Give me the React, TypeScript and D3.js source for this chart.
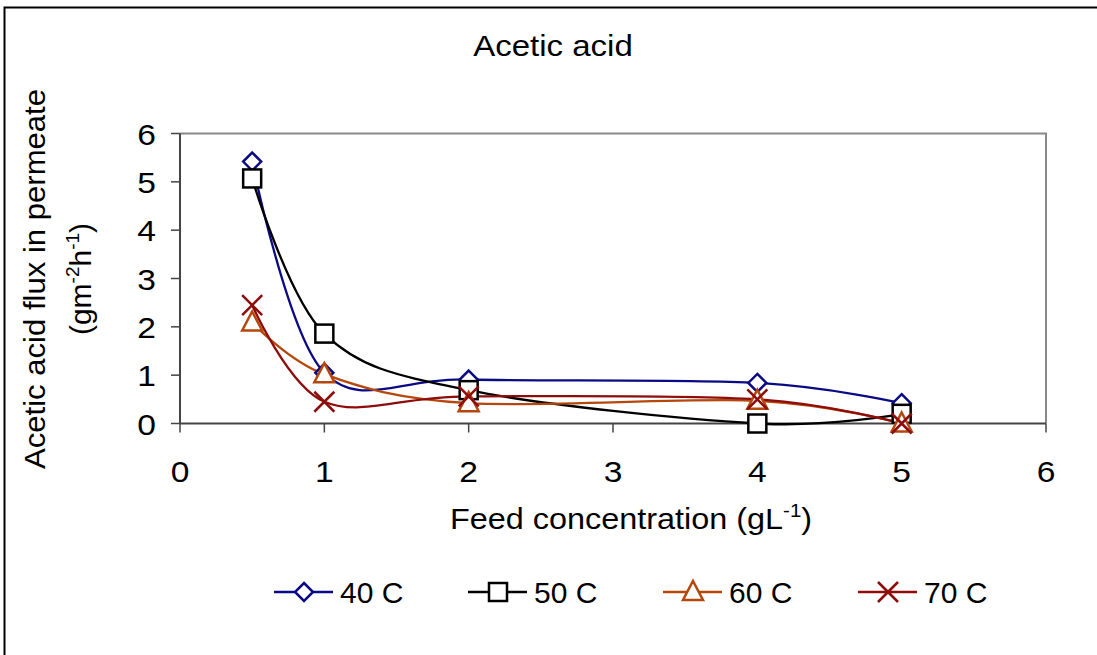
import * as d3 from "d3";

const feedConc = [0.5, 1, 2, 4, 5];
const flux40 = [5.42, 1.05, 0.91, 0.84, 0.42];
const flux50 = [5.07, 1.86, 0.69, 0.0, 0.2];
const flux60 = [2.09, 1.02, 0.42, 0.47, 0.0];
const flux70 = [2.45, 0.45, 0.56, 0.5, 0.0];
const seriesNames = ["40 C", "50 C", "60 C", "70 C"];
const xTicks = [0, 1, 2, 3, 4, 5, 6];
const yTicks = [0, 1, 2, 3, 4, 5, 6];

const colors = ["#0a0a85", "#000000", "#b5470c", "#8e0c0c"];
const shapes = ["diamond", "square", "triangle", "cross"];
const FONT = "'Liberation Sans', Arial, sans-serif";

function Marker({ shape, color, cx, cy }: { shape: string; color: string; cx: number; cy: number }) {
  const common = { fill: shape === "cross" ? "none" : "#fff", stroke: color, strokeWidth: 2.5 };
  if (shape === "diamond") {
    return <path d={`M${cx},${cy - 9}L${cx + 9},${cy}L${cx},${cy + 9}L${cx - 9},${cy}Z`} {...common} />;
  }
  if (shape === "square") {
    return <rect x={cx - 9} y={cy - 9} width={18} height={18} {...common} />;
  }
  if (shape === "triangle") {
    return <path d={`M${cx},${cy - 11}L${cx + 10},${cy + 8}L${cx - 10},${cy + 8}Z`} {...common} />;
  }
  return <path d={`M${cx - 10},${cy - 10}L${cx + 10},${cy + 10}M${cx + 10},${cy - 10}L${cx - 10},${cy + 10}`} {...common} />;
}

export default function App() {
  const width = 1097;
  const height = 655;
  const left = 180;
  const right = 1046;
  const top = 133.5;
  const bottom = 423.5;

  const x = d3.scaleLinear().domain([0, 6]).range([left, right]);
  const y = d3.scaleLinear().domain([0, 6]).range([bottom, top]);

  const line = d3
    .line<[number, number]>()
    .x((d) => x(d[0]))
    .y((d) => y(d[1]))
    .curve(d3.curveCatmullRom.alpha(0));

  const series = [flux40, flux50, flux60, flux70].map((vals, i) => ({
    name: seriesNames[i],
    color: colors[i],
    shape: shapes[i],
    points: feedConc.map((c, j) => [c, vals[j]] as [number, number]),
  }));

  // legend layout: marker center x
  const legendMarkerX = [304, 498, 693, 888];
  const legendY = 592;

  return (
    <div style={{ position: "absolute", left: 0, top: 0 }}>
      <svg width={width} height={height} style={{ display: "block", fontFamily: FONT }}>
        <rect x={0} y={0} width={width} height={height} fill="#fff" />
        <path d={`M4.5,${height}V7.5H${width}`} fill="none" stroke="#000" strokeWidth={2} />

        <g transform="translate(553,56) scale(1.1,1)">
          <text textAnchor="middle" fontSize={30} fill="#000">
            Acetic acid
          </text>
        </g>

        {/* plot frame */}
        <path d={`M${left},${top}H${right}V${bottom}`} fill="none" stroke="#888" strokeWidth={2} />
        <line x1={left} x2={right} y1={bottom} y2={bottom} stroke="#444" strokeWidth={2} />
        <line x1={left} x2={left} y1={top} y2={bottom} stroke="#444" strokeWidth={2} />

        {yTicks.map((t) => (
          <g key={"y" + t}>
            <line x1={left - 9} x2={left} y1={y(t)} y2={y(t)} stroke="#444" strokeWidth={1.5} />
            <g transform={`translate(156,${y(t) + 11}) scale(1.12,1)`}>
              <text textAnchor="end" fontSize={30} fill="#000">
                {t}
              </text>
            </g>
          </g>
        ))}
        {xTicks.map((t) => (
          <g key={"x" + t}>
            <line x1={x(t)} x2={x(t)} y1={bottom} y2={bottom + 9} stroke="#444" strokeWidth={1.5} />
            <g transform={`translate(${x(t)},482) scale(1.12,1)`}>
              <text textAnchor="middle" fontSize={30} fill="#000">
                {t}
              </text>
            </g>
          </g>
        ))}

        <g transform="translate(631,529) scale(1.08,1)">
          <text textAnchor="middle" fontSize={30} fill="#000">
            Feed concentration (gL<tspan dy={-12} fontSize={19}>-1</tspan>
            <tspan dy={12}>)</tspan>
          </text>
        </g>

        <text transform="translate(45,279) rotate(-90)" textAnchor="middle" fontSize={30} textLength={380} lengthAdjust="spacingAndGlyphs" fill="#000">
          Acetic acid flux in permeate
        </text>
        <text transform="translate(91,279) rotate(-90)" textAnchor="middle" fontSize={30} fill="#000">
          (gm<tspan dy={-12} fontSize={19}>-2</tspan>
          <tspan dy={12}>h</tspan>
          <tspan dy={-12} fontSize={19}>-1</tspan>
          <tspan dy={12}>)</tspan>
        </text>

        {series.map((s) => (
          <path key={s.name + "l"} d={line(s.points) || ""} fill="none" stroke={s.color} strokeWidth={2.3} />
        ))}
        {series.map((s) => (
          <g key={s.name + "m"}>
            {s.points.map((p, j) => (
              <Marker key={j} shape={s.shape} color={s.color} cx={x(p[0])} cy={y(p[1])} />
            ))}
          </g>
        ))}

        {series.map((s, i) => (
          <g key={s.name + "leg"}>
            <line x1={legendMarkerX[i] - 30} x2={legendMarkerX[i] + 29} y1={legendY} y2={legendY} stroke={s.color} strokeWidth={2.3} />
            <Marker shape={s.shape} color={s.color} cx={legendMarkerX[i]} cy={legendY} />
            <text x={legendMarkerX[i] + 36} y={603} fontSize={30} fill="#000">
              {s.name}
            </text>
          </g>
        ))}
      </svg>
    </div>
  );
}
